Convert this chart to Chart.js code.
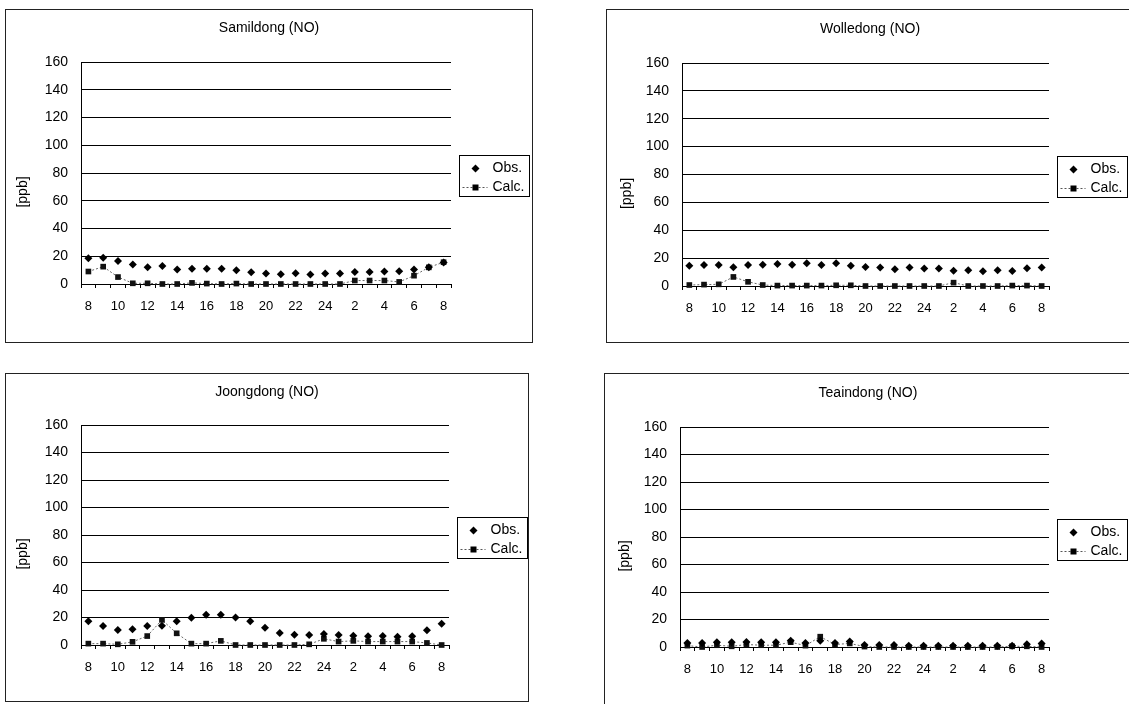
<!DOCTYPE html>
<html>
<head>
<meta charset="utf-8">
<script src="https://cdn.jsdelivr.net/npm/chart.js"></script>
<style>
  html, body { margin: 0; padding: 0; background: #fff; overflow: hidden; width: 1129px; height: 704px; }
  .panel { position: absolute; border: 1px solid #222; box-sizing: border-box; }
  .panel canvas { position: absolute; left: -1px; top: -1px; }
</style>
</head>
<body>
<div class="panel" id="p1"><canvas id="c1"></canvas></div>
<div class="panel" id="p2"><canvas id="c2"></canvas></div>
<div class="panel" id="p3"><canvas id="c3"></canvas></div>
<div class="panel" id="p4"><canvas id="c4"></canvas></div>
<script>
// hours from 8 h to 8 h next day
const hours = ['8','9','10','11','12','13','14','15','16','17','18','19','20','21','22','23','24','1','2','3','4','5','6','7','8'];
const yTicks = [0, 20, 40, 60, 80, 100, 120, 140, 160];

const samildongObs  = [18.5, 19, 16.5, 14, 12, 13, 10.5, 11, 11, 11, 10, 8.5, 7.5, 7, 7.8, 6.8, 7.5, 7.5, 8.7, 8.7, 9, 9.2, 10.5, 12, 15.5];
const samildongCalc = [9, 12.5, 5, 0.5, 0.5, 0, 0, 0.8, 0.3, 0, 0.3, 0, 0, 0, 0, 0, 0, 0, 2.5, 2.5, 2.5, 1.5, 6, 12, 15.7];

const wolledongObs  = [14.5, 15, 15, 13.5, 15, 15.2, 15.7, 15.2, 16.4, 15, 16.4, 14.5, 13.7, 13.3, 12, 13.3, 12.5, 12.5, 11, 11.3, 10.6, 11.3, 10.8, 12.8, 13.3];
const wolledongCalc = [0.7, 1, 1.2, 6.5, 3, 0.7, 0.3, 0.3, 0.3, 0.3, 0.5, 0.5, 0, 0, 0, 0, 0, 0, 2.4, 0, 0, 0, 0.3, 0.3, 0];

const joongdongObs  = [17.3, 13.8, 11, 11.5, 13.8, 14, 17.3, 19.8, 22, 22, 20, 17.3, 12.5, 8.8, 7.5, 7.3, 8, 7.3, 6.8, 6.3, 6.5, 6, 6.3, 10.8, 15.5];
const joongdongCalc = [1, 1, 0.5, 2.3, 6.5, 18.3, 8.5, 1, 1, 3, 0, 0, 0, 0, 0, 0.5, 4.5, 2.5, 3, 2.5, 2.5, 2.5, 2.5, 1.5, 0];

const teaindongObs  = [3, 3, 3.5, 3.5, 3.7, 3.5, 3.5, 4.5, 3, 4.5, 3, 4, 1.5, 1.5, 1.5, 1, 1, 1, 1, 1, 1, 1, 1, 2, 2.6];
const teaindongCalc = [1, 0, 1.3, 0.5, 1.8, 1.3, 1.3, 3.5, 1, 7.5, 1.8, 2.6, 0.3, 0, 0, 0, 0, 0, 0, 0, 0, 0, 0.5, 0.5, 0];

const FONT = '"Liberation Sans", Arial, sans-serif';

// draws the y title and the boxed legend like the spreadsheet chart
const panelExtras = {
  id: 'panelExtras',
  afterDraw(chart, args, opts) {
    const ctx = chart.ctx;
    const a = chart.chartArea;
    ctx.save();
    ctx.fillStyle = '#000';
    ctx.font = '14px ' + FONT;
    ctx.textAlign = 'center';
    ctx.textBaseline = 'middle';
    ctx.translate(opts.ppbX, (a.top + a.bottom) / 2 + 19);
    ctx.rotate(-Math.PI / 2);
    ctx.fillText('[ppb]', 0, 0);
    ctx.restore();

    const bw = 70, bh = 41;
    const bx = Math.round(a.right) + 8.5;
    const by = Math.round((a.top + a.bottom) / 2 + 2 - bh / 2) + 0.5;
    ctx.save();
    ctx.strokeStyle = '#000';
    ctx.lineWidth = 1;
    ctx.strokeRect(bx, by, bw, bh);
    ctx.fillStyle = '#000';
    ctx.font = '14px ' + FONT;
    ctx.textAlign = 'left';
    ctx.textBaseline = 'middle';
    const r1 = by + 13, r2 = by + 32, mx = bx + 16;
    ctx.beginPath();
    ctx.moveTo(mx, r1 - 4); ctx.lineTo(mx + 4, r1); ctx.lineTo(mx, r1 + 4); ctx.lineTo(mx - 4, r1);
    ctx.closePath();
    ctx.fill();
    ctx.fillText('Obs.', bx + 33, r1);
    ctx.strokeStyle = '#555';
    ctx.setLineDash([2, 2]);
    ctx.beginPath();
    ctx.moveTo(bx + 3, r2); ctx.lineTo(bx + 28, r2);
    ctx.stroke();
    ctx.setLineDash([]);
    ctx.fillRect(mx - 3, r2 - 3, 6, 6);
    ctx.fillText('Calc.', bx + 33, r2);
    ctx.restore();
  }
};

function makeChart(id, panel, title, obs, calc) {
  const box = document.getElementById('p' + id);
  box.style.left = panel.left + 'px';
  box.style.top = panel.top + 'px';
  box.style.width = panel.w + 'px';
  box.style.height = panel.h + 'px';
  const canvas = document.getElementById('c' + id);
  canvas.width = panel.w;
  canvas.height = panel.h;

  return new Chart(canvas.getContext('2d'), {
    type: 'line',
    data: {
      labels: hours,
      datasets: [{
        label: 'Obs.',
        data: obs,
        showLine: false,
        pointStyle: 'rectRot',
        pointRadius: 4,
        backgroundColor: '#000',
        borderColor: '#000',
        borderWidth: 0,
        clip: false
      }, {
        label: 'Calc.',
        data: calc,
        pointStyle: 'rect',
        pointRadius: 4,
        pointBackgroundColor: '#111',
        pointBorderColor: '#111',
        pointBorderWidth: 0,
        borderColor: '#666',
        borderWidth: 1,
        borderDash: [2, 2],
        tension: 0,
        fill: false,
        clip: false
      }]
    },
    options: {
      responsive: false,
      animation: false,
      events: [],
      layout: { padding: 0 },
      plugins: {
        legend: { display: false },
        tooltip: { enabled: false },
        title: {
          display: true,
          text: title,
          color: '#000',
          font: { family: FONT, size: 14, weight: 'normal' },
          padding: { top: panel.titleY - 8.4, bottom: panel.areaTop - panel.titleY - 8.4 }
        },
        panelExtras: { ppbX: panel.ppbX }
      },
      scales: {
        x: {
          type: 'category',
          offset: true,
          grid: { display: true, drawOnChartArea: false, drawTicks: true, tickLength: 4, color: '#000', offset: true },
          border: { display: true, color: '#000', width: 1 },
          ticks: {
            autoSkip: false,
            maxRotation: 0,
            padding: 11,
            color: '#000',
            font: { family: FONT, size: 13 },
            callback: function (value, index) {
              return index % 2 === 0 ? this.getLabelForValue(value) : '';
            }
          },
          afterFit: s => { s.height = panel.xh; }
        },
        y: {
          min: yTicks[0],
          max: yTicks[yTicks.length - 1],
          afterBuildTicks: s => { s.ticks = yTicks.map(v => ({ value: v })); },
          grid: { color: '#000', lineWidth: 1, drawTicks: false },
          border: { display: true, color: '#000', width: 1 },
          ticks: { padding: 13, color: '#000', font: { family: FONT, size: 14 } },
          afterFit: s => { s.width = panel.areaLeft; }
        },
        yR: {
          position: 'right',
          display: true,
          grid: { display: false, drawTicks: false },
          border: { display: false },
          ticks: { display: false },
          afterFit: s => { s.width = panel.rightGap; }
        }
      }
    },
    plugins: [panelExtras]
  });
}

makeChart(1, { left: 5, top: 9, w: 528, h: 334, areaLeft: 76, areaTop: 53, xh: 59, rightGap: 82, titleY: 19, ppbX: 18 },
  'Samildong (NO)', samildongObs, samildongCalc);
makeChart(2, { left: 606, top: 9, w: 528, h: 334, areaLeft: 76, areaTop: 54, xh: 57, rightGap: 85, titleY: 20, ppbX: 21 },
  'Wolledong (NO)', wolledongObs, wolledongCalc);
makeChart(3, { left: 5, top: 373, w: 524, h: 329, areaLeft: 76, areaTop: 52, xh: 57, rightGap: 80, titleY: 19, ppbX: 18 },
  'Joongdong (NO)', joongdongObs, joongdongCalc);
makeChart(4, { left: 604, top: 373, w: 528, h: 340, areaLeft: 76, areaTop: 54, xh: 66, rightGap: 83, titleY: 20, ppbX: 21 },
  'Teaindong (NO)', teaindongObs, teaindongCalc);
</script>
</body>
</html>
